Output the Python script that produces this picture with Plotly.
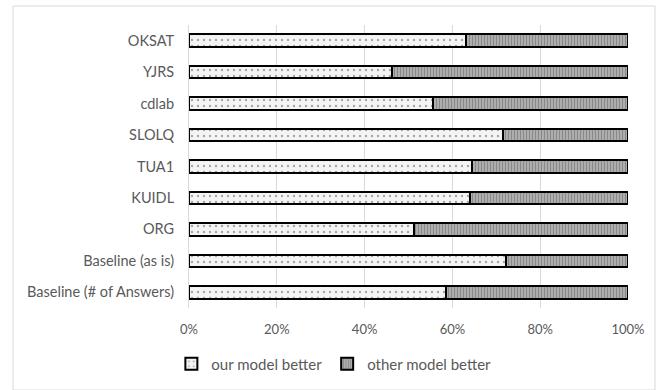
import plotly.graph_objects as go

categories = ["Baseline (# of Answers)", "Baseline (as is)", "ORG", "KUIDL", "TUA1",
              "SLOLQ", "cdlab", "YJRS", "OKSAT"]
our_better = [0.585, 0.722, 0.513, 0.64, 0.645, 0.715, 0.556, 0.462, 0.63]
other_better = [1 - v for v in our_better]
tick_vals = [0, 0.2, 0.4, 0.6, 0.8, 1.0]
tick_text = ["0%", "20%", "40%", "60%", "80%", "100%"]

FONT = "Lato, Carlito, 'Open Sans', sans-serif"

fig = go.Figure()
fig.add_trace(go.Bar(
    y=categories, x=our_better, orientation="h", name="our model better",
    marker=dict(color="white", line=dict(color="black", width=2),
                pattern=dict(shape=".", fgcolor="#555555", bgcolor="#f4f4f4",
                             size=6, solidity=0.12)),
    width=0.4,
))
fig.add_trace(go.Bar(
    y=categories, x=other_better, orientation="h", name="other model better",
    marker=dict(color="#a0a0a0", line=dict(color="black", width=2),
                pattern=dict(shape="|", fgcolor="#5a5a5a", bgcolor="#b8b8b8",
                             size=3, solidity=0.5)),
    width=0.4,
))

fig.update_layout(
    barmode="stack",
    width=663, height=390,
    margin=dict(l=189, r=35, t=25, b=82, autoexpand=False),
    paper_bgcolor="white", plot_bgcolor="white",
    font=dict(family=FONT, size=13, color="#595959"),
    showlegend=True,
    legend=dict(orientation="h", x=0.33, xanchor="center",
                y=-0.198, yanchor="middle",
                font=dict(size=15, color="#595959"), traceorder="normal",
                itemwidth=30),
    xaxis=dict(range=[0, 1], tickvals=tick_vals, ticktext=tick_text,
               showgrid=True, gridcolor="#d9d9d9", gridwidth=1,
               zeroline=False, showline=False, ticks="", ticklabelstandoff=12,
               tickfont=dict(size=13, color="#595959")),
    yaxis=dict(showgrid=False, zeroline=False, showline=True, linecolor="#d9d9d9",
               ticks="", ticklabelstandoff=11,
               tickfont=dict(size=14.5, color="#595959")),
    shapes=[dict(type="rect", xref="paper", yref="paper",
                 x0=-176/439, x1=(655-189)/439, y0=-82/283, y1=(308-6)/283,
                 line=dict(color="#d9d9d9", width=1), layer="below")],
)

fig.write_html("out.html", config={"displayModeBar": False},
               post_script="document.body.style.margin='0px';document.body.style.overflow='hidden';")
